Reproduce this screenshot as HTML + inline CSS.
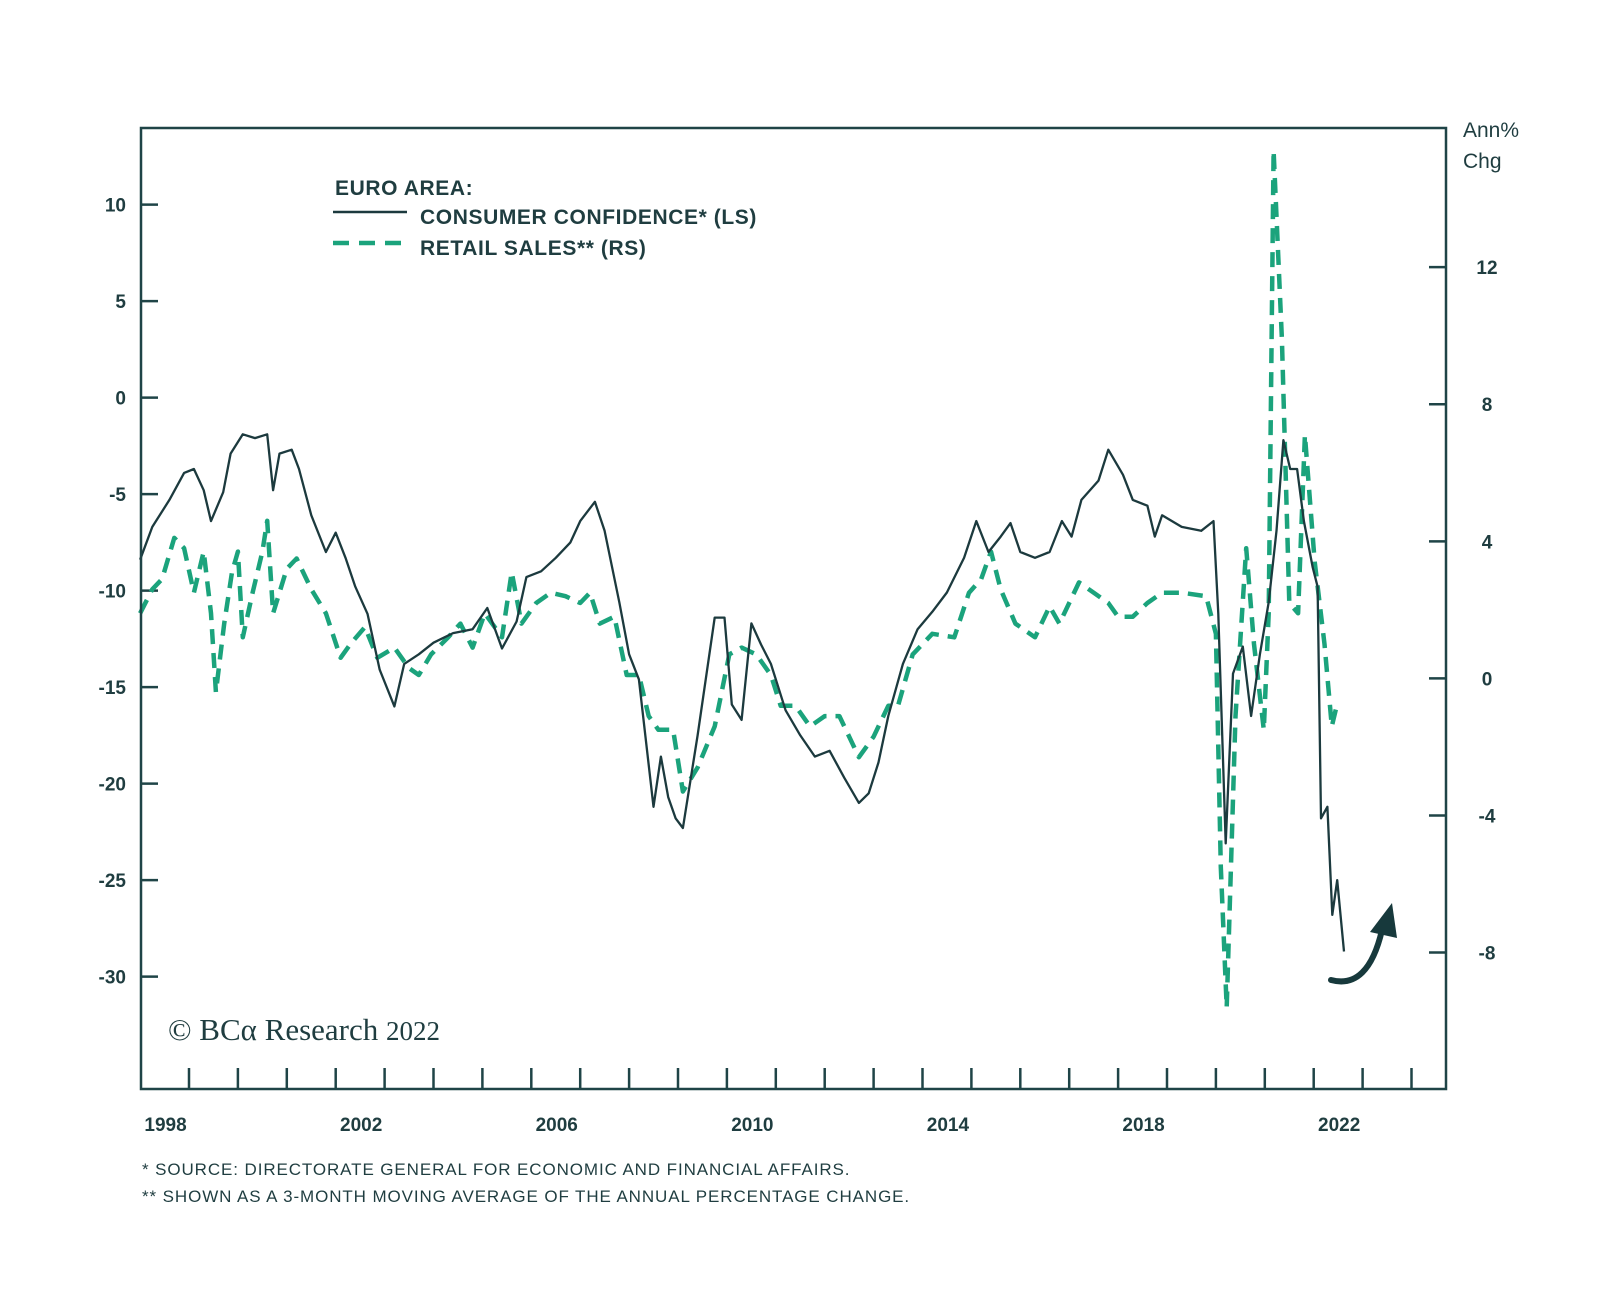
<!DOCTYPE html>
<html><head><meta charset="utf-8"><style>
body{margin:0;background:#fff;}
svg{display:block;font-family:"Liberation Sans",sans-serif;}
.tk{font-size:19px;font-weight:bold;fill:#1f3d40;}
.lg{font-size:21px;font-weight:bold;fill:#1f3d40;letter-spacing:0.6px;}
.fn{font-size:17px;fill:#1f3d40;letter-spacing:0.9px;}
</style></head><body>
<svg id="chart" width="1600" height="1296" viewBox="0 0 1600 1296">
<g id="grid"></g>
<g id="series"></g>
<rect x="141" y="128" width="1305" height="961" fill="none" stroke="#1f4447" stroke-width="2.5"/>
<g>
<text class="lg" x="335" y="195">EURO AREA:</text>
<line x1="333" y1="212" x2="407" y2="212" stroke="#1c3a3e" stroke-width="2.5"/>
<text class="lg" x="420" y="224">CONSUMER CONFIDENCE* (LS)</text>
<line x1="333" y1="243" x2="407" y2="243" stroke="#1ba37c" stroke-width="4.5" stroke-dasharray="16,10"/>
<text class="lg" x="420" y="255">RETAIL SALES** (RS)</text>
</g>
<text x="1466" y="137" style="font-size:21px;fill:#1f3d40"><tspan x="1463">Ann%</tspan><tspan x="1463" dy="31">Chg</tspan></text>
<text x="168" y="1040" style="font-family:'Liberation Serif',serif;font-size:31px;fill:#1f3d40">© BCα Research <tspan style="font-size:27px">2022</tspan></text>
<path d="M1331 980 Q1368 990 1382 930" fill="none" stroke="#17393c" stroke-width="6" stroke-linecap="round"/>
<polygon points="1370,932 1392,903 1397,938" fill="#17393c"/>
<text class="fn" x="142" y="1175">*  SOURCE: DIRECTORATE GENERAL FOR ECONOMIC AND FINANCIAL AFFAIRS.</text>
<text class="fn" x="142" y="1202">** SHOWN AS A 3-MONTH MOVING AVERAGE OF THE ANNUAL PERCENTAGE CHANGE.</text>
</svg>
<script>
const leftTicks=[10,5,0,-5,-10,-15,-20,-25,-30];
const rightTicks=[12,8,4,0,-4,-8];
const yearLabels=[1998,2002,2006,2010,2014,2018,2022];
const ccT=[1998.0,1998.25,1998.6,1998.9,1999.1,1999.3,1999.45,1999.7,1999.85,2000.1,2000.35,2000.6,2000.72,2000.85,2001.1,2001.25,2001.5,2001.8,2002.0,2002.2,2002.4,2002.65,2002.9,2003.2,2003.4,2003.7,2004.0,2004.4,2004.8,2005.1,2005.4,2005.7,2005.9,2006.2,2006.5,2006.8,2007.0,2007.3,2007.5,2007.8,2008.0,2008.2,2008.5,2008.65,2008.8,2008.95,2009.1,2009.4,2009.75,2009.95,2010.1,2010.3,2010.5,2010.7,2010.9,2011.2,2011.5,2011.8,2012.1,2012.4,2012.7,2012.9,2013.1,2013.3,2013.6,2013.9,2014.2,2014.5,2014.85,2015.1,2015.35,2015.6,2015.8,2016.0,2016.3,2016.6,2016.85,2017.05,2017.25,2017.6,2017.8,2018.1,2018.3,2018.6,2018.75,2018.9,2019.3,2019.7,2019.95,2020.05,2020.2,2020.35,2020.55,2020.72,2020.9,2021.08,2021.24,2021.38,2021.52,2021.66,2021.8,2021.98,2022.08,2022.15,2022.28,2022.38,2022.48,2022.62];
const ccV=[-8.4,-6.7,-5.3,-3.9,-3.7,-4.8,-6.4,-4.9,-2.9,-1.9,-2.1,-1.9,-4.8,-2.9,-2.7,-3.7,-6.1,-8.0,-7.0,-8.3,-9.8,-11.2,-14.1,-16.0,-13.8,-13.3,-12.7,-12.2,-12.0,-10.9,-13.0,-11.6,-9.3,-9.0,-8.3,-7.5,-6.4,-5.4,-6.9,-10.6,-13.3,-14.6,-21.2,-18.6,-20.7,-21.8,-22.3,-17.5,-11.4,-11.4,-15.9,-16.7,-11.7,-12.8,-13.8,-16.2,-17.5,-18.6,-18.3,-19.7,-21.0,-20.5,-18.9,-16.5,-13.8,-12.0,-11.1,-10.1,-8.3,-6.4,-8.0,-7.2,-6.5,-8.0,-8.3,-8.0,-6.4,-7.2,-5.3,-4.3,-2.7,-4.0,-5.3,-5.6,-7.2,-6.1,-6.7,-6.9,-6.4,-11.2,-23.1,-14.3,-12.9,-16.5,-13.3,-10.6,-6.9,-2.2,-3.7,-3.7,-6.4,-8.8,-9.8,-21.8,-21.2,-26.8,-25.0,-28.7,-23.9];
const rsT=[1998.0,1998.25,1998.45,1998.7,1998.9,1999.1,1999.3,1999.45,1999.55,1999.72,1999.88,2000.0,2000.1,2000.3,2000.5,2000.6,2000.72,2001.0,2001.2,2001.5,2001.8,2002.1,2002.3,2002.6,2002.85,2003.2,2003.5,2003.7,2003.95,2004.3,2004.55,2004.8,2005.05,2005.4,2005.6,2005.8,2006.1,2006.4,2006.7,2007.0,2007.2,2007.4,2007.7,2007.95,2008.2,2008.4,2008.6,2008.9,2009.1,2009.4,2009.75,2010.05,2010.3,2010.6,2010.9,2011.1,2011.4,2011.7,2012.0,2012.3,2012.7,2013.0,2013.3,2013.5,2013.8,2014.2,2014.65,2014.95,2015.2,2015.4,2015.6,2015.9,2016.3,2016.6,2016.8,2017.2,2017.5,2017.8,2018.0,2018.3,2018.6,2018.9,2019.3,2019.8,2020.0,2020.1,2020.22,2020.4,2020.62,2020.78,2020.98,2021.08,2021.18,2021.35,2021.5,2021.68,2021.82,2022.02,2022.22,2022.37,2022.47];
const rsV=[1.9,2.6,2.9,4.1,3.8,2.5,3.7,1.9,-0.4,1.6,3.1,3.7,1.2,2.5,3.7,4.6,1.9,3.2,3.5,2.6,1.9,0.6,1.0,1.5,0.6,0.9,0.3,0.1,0.7,1.2,1.6,0.9,1.9,1.2,3.1,1.6,2.2,2.5,2.4,2.2,2.5,1.6,1.8,0.1,0.1,-1.1,-1.5,-1.5,-3.3,-2.6,-1.4,0.7,0.9,0.7,0.1,-0.8,-0.8,-1.4,-1.1,-1.1,-2.3,-1.7,-0.8,-0.8,0.7,1.3,1.2,2.5,2.9,3.7,2.6,1.6,1.2,2.1,1.6,2.8,2.5,2.2,1.8,1.8,2.2,2.5,2.5,2.4,1.3,-5.5,-9.6,-1.1,3.8,1.0,-1.5,1.9,15.4,9.9,2.2,1.9,7.1,3.4,1.0,-1.4,-0.8];

const NS='http://www.w3.org/2000/svg';
function xS(t){return 189+(t-1999)*48.9;}
function yL(v){return 397.6-v*19.3;}
function yR(v){return 678.4-v*34.27;}
const grid=document.getElementById('grid');
const series=document.getElementById('series');
function mk(tag,attrs,parent){const e=document.createElementNS(NS,tag);for(const k in attrs)e.setAttribute(k,attrs[k]);parent.appendChild(e);return e;}
leftTicks.forEach(v=>{
  const l=mk('line',{x1:141,x2:158,y1:yL(v),y2:yL(v),stroke:'#1f4447','stroke-width':2.5},grid);
  
  
  const t=mk('text',{x:126,y:yL(v)+7,'text-anchor':'end',class:'tk'},grid);
  
  
  t.textContent=v;
});
rightTicks.forEach(v=>{
  const l=mk('line',{x1:1429,x2:1446,y1:yR(v),y2:yR(v),stroke:'#1f4447','stroke-width':2.5},grid);
  
  
  const t=mk('text',{x:1487,y:yR(v)+7,'text-anchor':'middle',class:'tk'},grid);
  
  
  t.textContent=v;
});
for(let y=1999;y<=2024;y++){
  const l=mk('line',{x1:xS(y),x2:xS(y),y1:1068,y2:1089,stroke:'#1f4447','stroke-width':2.5},grid);
  
  
}
yearLabels.forEach(y=>{
  const t=mk('text',{x:xS(y+0.5)+1,y:1131,'text-anchor':'middle',class:'tk'},grid);
  
  
  t.textContent=y;
});
const rp=rsT.map((t,i)=>xS(t).toFixed(1)+','+yR(rsV[i]).toFixed(1)).join(' ');
const rl=mk('polyline',{points:rp,fill:'none',stroke:'#1ba37c','stroke-width':4.5,'stroke-dasharray':'15,9','stroke-linejoin':'round'},series);


const cp=ccT.map((t,i)=>xS(t).toFixed(1)+','+yL(ccV[i]).toFixed(1)).join(' ');
const cl=mk('polyline',{points:cp,fill:'none',stroke:'#1c3a3e','stroke-width':2.3,'stroke-linejoin':'round'},series);


</script>
</body></html>
